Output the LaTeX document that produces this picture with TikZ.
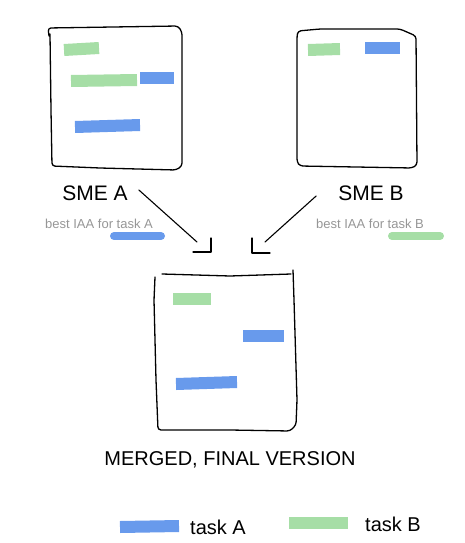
\documentclass[tikz,border=0pt]{standalone}
\usepackage{fontspec}
\setmainfont{Liberation Sans}
\definecolor{hlblue}{RGB}{104,154,236}
\definecolor{hlgreen}{RGB}{166,222,166}
\definecolor{labgray}{RGB}{150,150,150}
\tikzset{
  sketch/.style={draw=black, line width=1.3pt, line join=round, line cap=round, rounded corners=3pt},
  barA/.style={draw=hlblue, line width=12pt, line cap=butt},
  barB/.style={draw=hlgreen, line width=12pt, line cap=butt},
  title/.style={font=\fontsize{21}{24}\selectfont, inner sep=0pt},
  sub/.style={font=\fontsize{13}{15}\selectfont, text=labgray, inner sep=0pt},
  legend/.style={font=\fontsize{20}{22}\selectfont, inner sep=0pt, anchor=west},
  conn/.style={draw=black, line width=1.1pt, line cap=round},
  tip/.style={draw=black, line width=1.1pt, line cap=round, line join=round}
}
\begin{document}
\begin{tikzpicture}[x=1pt,y=-1pt]
\useasboundingbox (0,0) rectangle (464,543);
% Box A
\draw[sketch] (49,36) -- (48,28) -- (178,26) -- (182,32) -- (182,166) -- (176,170) -- (100,168) -- (52,166) -- (51,110) -- (50,34);
\draw[barB] (64,50) -- (99,48);
\draw[barB] (71,81) -- (137,80);
\draw[barA] (140,78) -- (174,78);
\draw[barA] (75,127) -- (140,125);
% Box B
\draw[sketch] (297,36) -- (298,31) -- (320,29) -- (400,29) -- (416,36) -- (417,165) -- (412,168) -- (300,166) -- (297,162) -- cycle;
\draw[barB] (308,50) -- (340,49);
\draw[barA] (365,48) -- (400,48);
% Merged box
\draw[sketch] (162,274) -- (230,276) -- (291,274);
\draw[sketch] (293,270) -- (294,300) -- (297,400) -- (296,425) -- (290,431) -- (230,430) -- (158,430) -- (156,380) -- (154,300) -- (155,277);
\draw[barB] (173,299) -- (211,299);
\draw[barA] (243,336) -- (284,336);
\draw[barA] (176,384) -- (237,382);
% labels
\node[title] (smeA) at (95,193) {SME A};
\node[title] (smeB) at (371,193) {SME B};
\node[sub] (iaaA) at (99,224) {best IAA for task A};
\node[sub] (iaaB) at (370,224) {best IAA for task B};
\draw[barA, line width=8pt, line cap=round] (114,236) -- (161,236);
\draw[barB, line width=8pt, line cap=round] (392,236) -- (440,236);
\node[title, font=\fontsize{20}{24}\selectfont] (merged) at (230,460) {MERGED, FINAL VERSION};
% connectors
\coordinate (endA) at (197,242);
\coordinate (endB) at (265,242);
\draw[conn] (smeA.east) ++(11,-3) coordinate (startA) -- (endA);
\draw[conn] (smeB.west) ++(-22,3) coordinate (startB) -- (endB);
\draw[tip] (193,252) -- (211,252) -- (211,238);
\draw[tip] (252,238) -- (252,253) -- (270,253);
% legend
\draw[barA] (120,527) -- (179,526);
\node[legend] (lA) at (190,527) {task A};
\draw[barB] (289,523) -- (348,523);
\node[legend] (lB) at (365,524) {task B};
\end{tikzpicture}
\end{document}
